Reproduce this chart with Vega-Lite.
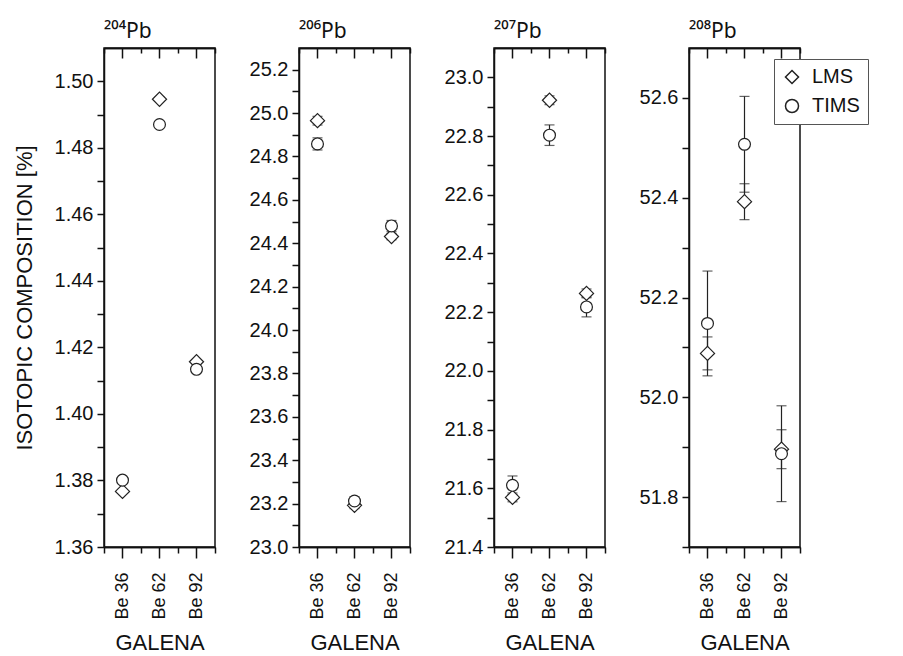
{
  "$schema": "https://vega.github.io/schema/vega-lite/v6.json",
  "padding": {"left": 12, "top": 20, "right": 0, "bottom": 0},
  "background": "white",
  "config": {
    "view": {"stroke": "#111", "strokeWidth": 1.5},
    "font": "Liberation Sans",
    "axis": {"domainColor": "#111", "tickColor": "#111", "labelColor": "#111", "titleColor": "#111", "titleFontWeight": "normal", "grid": false, "domainWidth": 1.5, "tickWidth": 1.5, "labelFont": "Liberation Sans", "titleFont": "Liberation Sans"},
    "title": {"fontWeight": "normal", "color": "#111", "font": "Noto Sans"}
  },
  "data": {"values": [
    {"isotope": "204Pb", "sample": "Be 36", "method": "LMS", "value": 1.3767, "err": 0.0006},
    {"isotope": "204Pb", "sample": "Be 36", "method": "TIMS", "value": 1.3801, "err": 0.0006},
    {"isotope": "204Pb", "sample": "Be 62", "method": "LMS", "value": 1.4946, "err": 0.0006},
    {"isotope": "204Pb", "sample": "Be 62", "method": "TIMS", "value": 1.4870, "err": 0.0005},
    {"isotope": "204Pb", "sample": "Be 92", "method": "LMS", "value": 1.4157, "err": 0.0006},
    {"isotope": "204Pb", "sample": "Be 92", "method": "TIMS", "value": 1.4134, "err": 0.0005},
    {"isotope": "206Pb", "sample": "Be 36", "method": "LMS", "value": 24.965, "err": 0.02},
    {"isotope": "206Pb", "sample": "Be 36", "method": "TIMS", "value": 24.858, "err": 0.028},
    {"isotope": "206Pb", "sample": "Be 62", "method": "LMS", "value": 23.192, "err": 0.015},
    {"isotope": "206Pb", "sample": "Be 62", "method": "TIMS", "value": 23.212, "err": 0.02},
    {"isotope": "206Pb", "sample": "Be 92", "method": "LMS", "value": 24.431, "err": 0.015},
    {"isotope": "206Pb", "sample": "Be 92", "method": "TIMS", "value": 24.48, "err": 0.025},
    {"isotope": "207Pb", "sample": "Be 36", "method": "LMS", "value": 21.569, "err": 0.015},
    {"isotope": "207Pb", "sample": "Be 36", "method": "TIMS", "value": 21.61, "err": 0.032},
    {"isotope": "207Pb", "sample": "Be 62", "method": "LMS", "value": 22.922, "err": 0.015},
    {"isotope": "207Pb", "sample": "Be 62", "method": "TIMS", "value": 22.803, "err": 0.035},
    {"isotope": "207Pb", "sample": "Be 92", "method": "LMS", "value": 22.264, "err": 0.015},
    {"isotope": "207Pb", "sample": "Be 92", "method": "TIMS", "value": 22.218, "err": 0.034},
    {"isotope": "208Pb", "sample": "Be 36", "method": "LMS", "value": 52.088, "err": 0.033},
    {"isotope": "208Pb", "sample": "Be 36", "method": "TIMS", "value": 52.148, "err": 0.105},
    {"isotope": "208Pb", "sample": "Be 62", "method": "LMS", "value": 52.392, "err": 0.036},
    {"isotope": "208Pb", "sample": "Be 62", "method": "TIMS", "value": 52.507, "err": 0.096},
    {"isotope": "208Pb", "sample": "Be 92", "method": "LMS", "value": 51.896, "err": 0.039},
    {"isotope": "208Pb", "sample": "Be 92", "method": "TIMS", "value": 51.887, "err": 0.096}
  ]},
  "spacing": 31,
  "resolve": {"scale": {"shape": "independent", "y": "independent", "x": "independent"}, "legend": {"shape": "independent"}},
  "hconcat": [
    {
      "width": 111, "height": 499,
      "title": {"text": "²⁰⁴Pb", "anchor": "start", "frame": "group", "fontSize": 21, "offset": 5},
      "transform": [{"filter": "datum.isotope == '204Pb'"}],
      "resolve": {"axis": {"x": "independent"}},
      "layer": [
        {"transform": [{"filter": "datum.method == 'LMS'"}],
         "mark": {"type": "errorbar", "ticks": true, "size": 10, "thickness": 1.2, "color": "#222"},
         "encoding": {
           "x": {"field": "sample", "type": "nominal", "scale": {"type": "band", "paddingInner": 0, "paddingOuter": 0, "domain": ["Be 36", "Be 62", "Be 92"]}, "axis": {"orient": "bottom", "title": null, "labels": false, "domain": true, "tickBand": "extent", "tickSize": 6}},
           "y": {"field": "value", "type": "quantitative", "scale": {"domain": [1.36, 1.51], "nice": false, "zero": false},
                 "axis": {"title": "ISOTOPIC COMPOSITION [%]", "titleFontSize": 22, "titlePadding": 18, "values": [1.36, 1.37, 1.38, 1.39, 1.40, 1.41, 1.42, 1.43, 1.44, 1.45, 1.46, 1.47, 1.48, 1.49, 1.50], "labelExpr": "round(datum.value*100) % 2 == 0 ? format(datum.value, '.2f') : ''", "tickSize": 7, "labelFontSize": 20, "labelPadding": 4, "labelOverlap": false}},
           "yError": {"field": "err"}}},
        {"transform": [{"filter": "datum.method == 'TIMS'"}],
         "mark": {"type": "errorbar", "ticks": true, "size": 10, "thickness": 1.2, "color": "#222"},
         "encoding": {
           "x": {"field": "sample", "type": "nominal", "scale": {"type": "band", "paddingInner": 0, "paddingOuter": 0, "domain": ["Be 36", "Be 62", "Be 92"]}, "axis": {"orient": "top", "title": null, "labels": false, "domain": true, "tickBand": "extent", "tickSize": -5}},
           "y": {"field": "value", "type": "quantitative", "scale": {"domain": [1.36, 1.51], "nice": false, "zero": false},
                 "axis": {"title": "ISOTOPIC COMPOSITION [%]", "titleFontSize": 22, "titlePadding": 18, "values": [1.36, 1.37, 1.38, 1.39, 1.40, 1.41, 1.42, 1.43, 1.44, 1.45, 1.46, 1.47, 1.48, 1.49, 1.50], "labelExpr": "round(datum.value*100) % 2 == 0 ? format(datum.value, '.2f') : ''", "tickSize": 7, "labelFontSize": 20, "labelPadding": 4, "labelOverlap": false}},
           "yError": {"field": "err"}}},
        {"transform": [{"filter": "datum.method == 'LMS'"}],
         "mark": {"type": "point", "filled": false, "color": "#222", "fill": "white", "strokeWidth": 1.2, "size": 200, "opacity": 1},
         "encoding": {
           "x": {"field": "sample", "type": "nominal", "scale": {"type": "band", "paddingInner": 0, "paddingOuter": 0, "domain": ["Be 36", "Be 62", "Be 92"]}, "axis": {"orient": "bottom", "domain": true, "title": "GALENA", "titleFontSize": 22, "titlePadding": 13, "labelAngle": -90, "labelFontSize": 18, "labelPadding": 14, "tickSize": 11}},
           "y": {"field": "value", "type": "quantitative", "scale": {"domain": [1.36, 1.51], "nice": false, "zero": false},
                 "axis": {"title": "ISOTOPIC COMPOSITION [%]", "titleFontSize": 22, "titlePadding": 18, "values": [1.36, 1.37, 1.38, 1.39, 1.40, 1.41, 1.42, 1.43, 1.44, 1.45, 1.46, 1.47, 1.48, 1.49, 1.50], "labelExpr": "round(datum.value*100) % 2 == 0 ? format(datum.value, '.2f') : ''", "tickSize": 7, "labelFontSize": 20, "labelPadding": 4, "labelOverlap": false}},
           "shape": {"field": "method", "type": "nominal", "scale": {"domain": ["LMS", "TIMS"], "range": ["diamond", "circle"]}, "legend": null}}},
        {"transform": [{"filter": "datum.method == 'TIMS'"}],
         "mark": {"type": "point", "filled": false, "color": "#222", "fill": "white", "strokeWidth": 1.2, "size": 140, "opacity": 1},
         "encoding": {
           "x": {"field": "sample", "type": "nominal", "scale": {"type": "band", "paddingInner": 0, "paddingOuter": 0, "domain": ["Be 36", "Be 62", "Be 92"]}, "axis": {"orient": "top", "domain": true, "title": null, "labels": false, "tickSize": -10}},
           "y": {"field": "value", "type": "quantitative", "scale": {"domain": [1.36, 1.51], "nice": false, "zero": false},
                 "axis": {"title": "ISOTOPIC COMPOSITION [%]", "titleFontSize": 22, "titlePadding": 18, "values": [1.36, 1.37, 1.38, 1.39, 1.40, 1.41, 1.42, 1.43, 1.44, 1.45, 1.46, 1.47, 1.48, 1.49, 1.50], "labelExpr": "round(datum.value*100) % 2 == 0 ? format(datum.value, '.2f') : ''", "tickSize": 7, "labelFontSize": 20, "labelPadding": 4, "labelOverlap": false}},
           "shape": {"field": "method", "type": "nominal", "scale": {"domain": ["LMS", "TIMS"], "range": ["diamond", "circle"]}, "legend": null}}}
      ]
    },
    {
      "width": 111, "height": 499,
      "title": {"text": "²⁰⁶Pb", "anchor": "start", "frame": "group", "fontSize": 21, "offset": 5},
      "transform": [{"filter": "datum.isotope == '206Pb'"}],
      "resolve": {"axis": {"x": "independent"}},
      "layer": [
        {"transform": [{"filter": "datum.method == 'LMS'"}],
         "mark": {"type": "errorbar", "ticks": true, "size": 10, "thickness": 1.2, "color": "#222"},
         "encoding": {
           "x": {"field": "sample", "type": "nominal", "scale": {"type": "band", "paddingInner": 0, "paddingOuter": 0, "domain": ["Be 36", "Be 62", "Be 92"]}, "axis": {"orient": "bottom", "title": null, "labels": false, "domain": true, "tickBand": "extent", "tickSize": 6}},
           "y": {"field": "value", "type": "quantitative", "scale": {"domain": [23.0, 25.3], "nice": false, "zero": false},
                 "axis": {"title": null, "values": [23.0, 23.1, 23.2, 23.3, 23.4, 23.5, 23.6, 23.7, 23.8, 23.9, 24.0, 24.1, 24.2, 24.3, 24.4, 24.5, 24.6, 24.7, 24.8, 24.9, 25.0, 25.1, 25.2], "labelExpr": "round(datum.value*10) % 2 == 0 ? format(datum.value, '.1f') : ''", "tickSize": 7, "labelFontSize": 20, "labelPadding": 4, "labelOverlap": false}},
           "yError": {"field": "err"}}},
        {"transform": [{"filter": "datum.method == 'TIMS'"}],
         "mark": {"type": "errorbar", "ticks": true, "size": 10, "thickness": 1.2, "color": "#222"},
         "encoding": {
           "x": {"field": "sample", "type": "nominal", "scale": {"type": "band", "paddingInner": 0, "paddingOuter": 0, "domain": ["Be 36", "Be 62", "Be 92"]}, "axis": {"orient": "top", "title": null, "labels": false, "domain": true, "tickBand": "extent", "tickSize": -5}},
           "y": {"field": "value", "type": "quantitative", "scale": {"domain": [23.0, 25.3], "nice": false, "zero": false},
                 "axis": {"title": null, "values": [23.0, 23.1, 23.2, 23.3, 23.4, 23.5, 23.6, 23.7, 23.8, 23.9, 24.0, 24.1, 24.2, 24.3, 24.4, 24.5, 24.6, 24.7, 24.8, 24.9, 25.0, 25.1, 25.2], "labelExpr": "round(datum.value*10) % 2 == 0 ? format(datum.value, '.1f') : ''", "tickSize": 7, "labelFontSize": 20, "labelPadding": 4, "labelOverlap": false}},
           "yError": {"field": "err"}}},
        {"transform": [{"filter": "datum.method == 'LMS'"}],
         "mark": {"type": "point", "filled": false, "color": "#222", "fill": "white", "strokeWidth": 1.2, "size": 200, "opacity": 1},
         "encoding": {
           "x": {"field": "sample", "type": "nominal", "scale": {"type": "band", "paddingInner": 0, "paddingOuter": 0, "domain": ["Be 36", "Be 62", "Be 92"]}, "axis": {"orient": "bottom", "domain": true, "title": "GALENA", "titleFontSize": 22, "titlePadding": 13, "labelAngle": -90, "labelFontSize": 18, "labelPadding": 14, "tickSize": 11}},
           "y": {"field": "value", "type": "quantitative", "scale": {"domain": [23.0, 25.3], "nice": false, "zero": false},
                 "axis": {"title": null, "values": [23.0, 23.1, 23.2, 23.3, 23.4, 23.5, 23.6, 23.7, 23.8, 23.9, 24.0, 24.1, 24.2, 24.3, 24.4, 24.5, 24.6, 24.7, 24.8, 24.9, 25.0, 25.1, 25.2], "labelExpr": "round(datum.value*10) % 2 == 0 ? format(datum.value, '.1f') : ''", "tickSize": 7, "labelFontSize": 20, "labelPadding": 4, "labelOverlap": false}},
           "shape": {"field": "method", "type": "nominal", "scale": {"domain": ["LMS", "TIMS"], "range": ["diamond", "circle"]}, "legend": null}}},
        {"transform": [{"filter": "datum.method == 'TIMS'"}],
         "mark": {"type": "point", "filled": false, "color": "#222", "fill": "white", "strokeWidth": 1.2, "size": 140, "opacity": 1},
         "encoding": {
           "x": {"field": "sample", "type": "nominal", "scale": {"type": "band", "paddingInner": 0, "paddingOuter": 0, "domain": ["Be 36", "Be 62", "Be 92"]}, "axis": {"orient": "top", "domain": true, "title": null, "labels": false, "tickSize": -10}},
           "y": {"field": "value", "type": "quantitative", "scale": {"domain": [23.0, 25.3], "nice": false, "zero": false},
                 "axis": {"title": null, "values": [23.0, 23.1, 23.2, 23.3, 23.4, 23.5, 23.6, 23.7, 23.8, 23.9, 24.0, 24.1, 24.2, 24.3, 24.4, 24.5, 24.6, 24.7, 24.8, 24.9, 25.0, 25.1, 25.2], "labelExpr": "round(datum.value*10) % 2 == 0 ? format(datum.value, '.1f') : ''", "tickSize": 7, "labelFontSize": 20, "labelPadding": 4, "labelOverlap": false}},
           "shape": {"field": "method", "type": "nominal", "scale": {"domain": ["LMS", "TIMS"], "range": ["diamond", "circle"]}, "legend": null}}}
      ]
    },
    {
      "width": 111, "height": 499,
      "title": {"text": "²⁰⁷Pb", "anchor": "start", "frame": "group", "fontSize": 21, "offset": 5},
      "transform": [{"filter": "datum.isotope == '207Pb'"}],
      "resolve": {"axis": {"x": "independent"}},
      "layer": [
        {"transform": [{"filter": "datum.method == 'LMS'"}],
         "mark": {"type": "errorbar", "ticks": true, "size": 10, "thickness": 1.2, "color": "#222"},
         "encoding": {
           "x": {"field": "sample", "type": "nominal", "scale": {"type": "band", "paddingInner": 0, "paddingOuter": 0, "domain": ["Be 36", "Be 62", "Be 92"]}, "axis": {"orient": "bottom", "title": null, "labels": false, "domain": true, "tickBand": "extent", "tickSize": 6}},
           "y": {"field": "value", "type": "quantitative", "scale": {"domain": [21.4, 23.1], "nice": false, "zero": false},
                 "axis": {"title": null, "values": [21.4, 21.5, 21.6, 21.7, 21.8, 21.9, 22.0, 22.1, 22.2, 22.3, 22.4, 22.5, 22.6, 22.7, 22.8, 22.9, 23.0], "labelExpr": "round(datum.value*10) % 2 == 0 ? format(datum.value, '.1f') : ''", "tickSize": 7, "labelFontSize": 20, "labelPadding": 4, "labelOverlap": false}},
           "yError": {"field": "err"}}},
        {"transform": [{"filter": "datum.method == 'TIMS'"}],
         "mark": {"type": "errorbar", "ticks": true, "size": 10, "thickness": 1.2, "color": "#222"},
         "encoding": {
           "x": {"field": "sample", "type": "nominal", "scale": {"type": "band", "paddingInner": 0, "paddingOuter": 0, "domain": ["Be 36", "Be 62", "Be 92"]}, "axis": {"orient": "top", "title": null, "labels": false, "domain": true, "tickBand": "extent", "tickSize": -5}},
           "y": {"field": "value", "type": "quantitative", "scale": {"domain": [21.4, 23.1], "nice": false, "zero": false},
                 "axis": {"title": null, "values": [21.4, 21.5, 21.6, 21.7, 21.8, 21.9, 22.0, 22.1, 22.2, 22.3, 22.4, 22.5, 22.6, 22.7, 22.8, 22.9, 23.0], "labelExpr": "round(datum.value*10) % 2 == 0 ? format(datum.value, '.1f') : ''", "tickSize": 7, "labelFontSize": 20, "labelPadding": 4, "labelOverlap": false}},
           "yError": {"field": "err"}}},
        {"transform": [{"filter": "datum.method == 'LMS'"}],
         "mark": {"type": "point", "filled": false, "color": "#222", "fill": "white", "strokeWidth": 1.2, "size": 200, "opacity": 1},
         "encoding": {
           "x": {"field": "sample", "type": "nominal", "scale": {"type": "band", "paddingInner": 0, "paddingOuter": 0, "domain": ["Be 36", "Be 62", "Be 92"]}, "axis": {"orient": "bottom", "domain": true, "title": "GALENA", "titleFontSize": 22, "titlePadding": 13, "labelAngle": -90, "labelFontSize": 18, "labelPadding": 14, "tickSize": 11}},
           "y": {"field": "value", "type": "quantitative", "scale": {"domain": [21.4, 23.1], "nice": false, "zero": false},
                 "axis": {"title": null, "values": [21.4, 21.5, 21.6, 21.7, 21.8, 21.9, 22.0, 22.1, 22.2, 22.3, 22.4, 22.5, 22.6, 22.7, 22.8, 22.9, 23.0], "labelExpr": "round(datum.value*10) % 2 == 0 ? format(datum.value, '.1f') : ''", "tickSize": 7, "labelFontSize": 20, "labelPadding": 4, "labelOverlap": false}},
           "shape": {"field": "method", "type": "nominal", "scale": {"domain": ["LMS", "TIMS"], "range": ["diamond", "circle"]}, "legend": null}}},
        {"transform": [{"filter": "datum.method == 'TIMS'"}],
         "mark": {"type": "point", "filled": false, "color": "#222", "fill": "white", "strokeWidth": 1.2, "size": 140, "opacity": 1},
         "encoding": {
           "x": {"field": "sample", "type": "nominal", "scale": {"type": "band", "paddingInner": 0, "paddingOuter": 0, "domain": ["Be 36", "Be 62", "Be 92"]}, "axis": {"orient": "top", "domain": true, "title": null, "labels": false, "tickSize": -10}},
           "y": {"field": "value", "type": "quantitative", "scale": {"domain": [21.4, 23.1], "nice": false, "zero": false},
                 "axis": {"title": null, "values": [21.4, 21.5, 21.6, 21.7, 21.8, 21.9, 22.0, 22.1, 22.2, 22.3, 22.4, 22.5, 22.6, 22.7, 22.8, 22.9, 23.0], "labelExpr": "round(datum.value*10) % 2 == 0 ? format(datum.value, '.1f') : ''", "tickSize": 7, "labelFontSize": 20, "labelPadding": 4, "labelOverlap": false}},
           "shape": {"field": "method", "type": "nominal", "scale": {"domain": ["LMS", "TIMS"], "range": ["diamond", "circle"]}, "legend": null}}}
      ]
    },
    {
      "width": 111, "height": 499,
      "title": {"text": "²⁰⁸Pb", "anchor": "start", "frame": "group", "fontSize": 21, "offset": 5},
      "transform": [{"filter": "datum.isotope == '208Pb'"}],
      "resolve": {"axis": {"x": "independent"}},
      "layer": [
        {"transform": [{"filter": "datum.method == 'LMS'"}],
         "mark": {"type": "errorbar", "ticks": true, "size": 10, "thickness": 1.2, "color": "#222"},
         "encoding": {
           "x": {"field": "sample", "type": "nominal", "scale": {"type": "band", "paddingInner": 0, "paddingOuter": 0, "domain": ["Be 36", "Be 62", "Be 92"]}, "axis": {"orient": "bottom", "title": null, "labels": false, "domain": true, "tickBand": "extent", "tickSize": 6}},
           "y": {"field": "value", "type": "quantitative", "scale": {"domain": [51.7, 52.7], "nice": false, "zero": false},
                 "axis": {"title": null, "values": [51.7, 51.8, 51.9, 52.0, 52.1, 52.2, 52.3, 52.4, 52.5, 52.6], "labelExpr": "round(datum.value*10) % 2 == 0 ? format(datum.value, '.1f') : ''", "tickSize": 7, "labelFontSize": 20, "labelPadding": 4, "labelOverlap": false}},
           "yError": {"field": "err"}}},
        {"transform": [{"filter": "datum.method == 'TIMS'"}],
         "mark": {"type": "errorbar", "ticks": true, "size": 10, "thickness": 1.2, "color": "#222"},
         "encoding": {
           "x": {"field": "sample", "type": "nominal", "scale": {"type": "band", "paddingInner": 0, "paddingOuter": 0, "domain": ["Be 36", "Be 62", "Be 92"]}, "axis": {"orient": "top", "title": null, "labels": false, "domain": true, "tickBand": "extent", "tickSize": -5}},
           "y": {"field": "value", "type": "quantitative", "scale": {"domain": [51.7, 52.7], "nice": false, "zero": false},
                 "axis": {"title": null, "values": [51.7, 51.8, 51.9, 52.0, 52.1, 52.2, 52.3, 52.4, 52.5, 52.6], "labelExpr": "round(datum.value*10) % 2 == 0 ? format(datum.value, '.1f') : ''", "tickSize": 7, "labelFontSize": 20, "labelPadding": 4, "labelOverlap": false}},
           "yError": {"field": "err"}}},
        {"transform": [{"filter": "datum.method == 'LMS'"}],
         "mark": {"type": "point", "filled": false, "color": "#222", "fill": "white", "strokeWidth": 1.2, "size": 200, "opacity": 1},
         "encoding": {
           "x": {"field": "sample", "type": "nominal", "scale": {"type": "band", "paddingInner": 0, "paddingOuter": 0, "domain": ["Be 36", "Be 62", "Be 92"]}, "axis": {"orient": "bottom", "domain": true, "title": "GALENA", "titleFontSize": 22, "titlePadding": 13, "labelAngle": -90, "labelFontSize": 18, "labelPadding": 14, "tickSize": 11}},
           "y": {"field": "value", "type": "quantitative", "scale": {"domain": [51.7, 52.7], "nice": false, "zero": false},
                 "axis": {"title": null, "values": [51.7, 51.8, 51.9, 52.0, 52.1, 52.2, 52.3, 52.4, 52.5, 52.6], "labelExpr": "round(datum.value*10) % 2 == 0 ? format(datum.value, '.1f') : ''", "tickSize": 7, "labelFontSize": 20, "labelPadding": 4, "labelOverlap": false}},
           "shape": {"field": "method", "type": "nominal", "scale": {"domain": ["LMS", "TIMS"], "range": ["diamond", "circle"]},
                     "legend": {"orient": "none", "legendX": 85, "legendY": 11, "title": null, "labelFontSize": 20, "labelColor": "#111", "labelFont": "Liberation Sans", "symbolSize": 170, "strokeColor": "#555", "fillColor": "white", "padding": 8, "rowPadding": 9, "labelOffset": 10, "direction": "vertical"}}}},
        {"transform": [{"filter": "datum.method == 'TIMS'"}],
         "mark": {"type": "point", "filled": false, "color": "#222", "fill": "white", "strokeWidth": 1.2, "size": 140, "opacity": 1},
         "encoding": {
           "x": {"field": "sample", "type": "nominal", "scale": {"type": "band", "paddingInner": 0, "paddingOuter": 0, "domain": ["Be 36", "Be 62", "Be 92"]}, "axis": {"orient": "top", "domain": true, "title": null, "labels": false, "tickSize": -10}},
           "y": {"field": "value", "type": "quantitative", "scale": {"domain": [51.7, 52.7], "nice": false, "zero": false},
                 "axis": {"title": null, "values": [51.7, 51.8, 51.9, 52.0, 52.1, 52.2, 52.3, 52.4, 52.5, 52.6], "labelExpr": "round(datum.value*10) % 2 == 0 ? format(datum.value, '.1f') : ''", "tickSize": 7, "labelFontSize": 20, "labelPadding": 4, "labelOverlap": false}},
           "shape": {"field": "method", "type": "nominal", "scale": {"domain": ["LMS", "TIMS"], "range": ["diamond", "circle"]},
                     "legend": {"orient": "none", "legendX": 85, "legendY": 11, "title": null, "labelFontSize": 20, "labelColor": "#111", "labelFont": "Liberation Sans", "symbolSize": 170, "strokeColor": "#555", "fillColor": "white", "padding": 8, "rowPadding": 9, "labelOffset": 10, "direction": "vertical"}}}}
      ]
    }
  ]
}
